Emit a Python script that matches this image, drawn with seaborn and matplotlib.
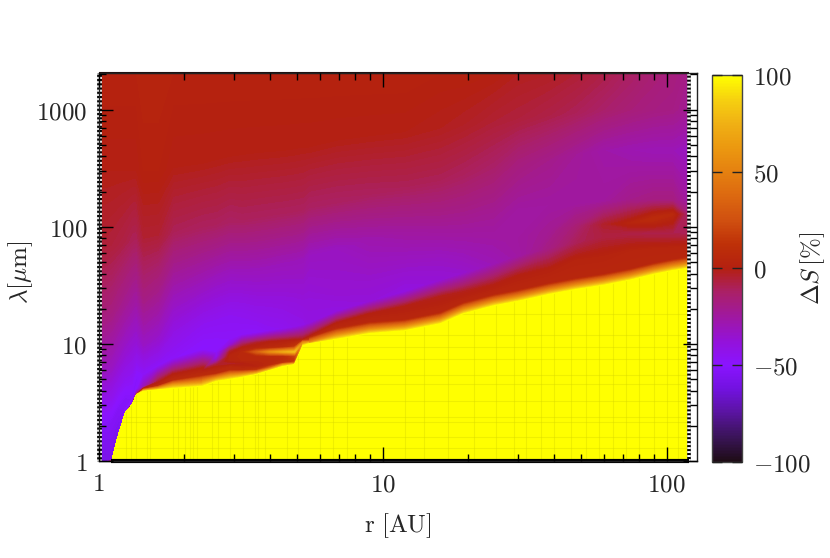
import numpy as np
import matplotlib
matplotlib.use("Agg")
import matplotlib.pyplot as plt
from matplotlib.cm import ScalarMappable
from matplotlib.colors import Normalize
from matplotlib.patches import Polygon
import seaborn as sns

# radius columns of the map [AU]
r_au = [1.0, 1.11, 1.17, 1.24, 1.31, 1.36, 1.44, 1.62, 1.83, 2.33, 2.6, 2.9, 3.2, 3.6, 4.0, 4.46, 4.9,
        5.25, 5.5, 6.9, 9, 12, 16, 19.3, 24.6, 30, 38.8, 48, 60, 75, 90, 105, 119]

# each layer: wavelength [um] and Delta S [%] in every column
lam_edge = [1, 1, 1.63, 2.58, 3.03, 3.7, 3.94, 4.05, 4.15, 4.33, 4.77, 4.96, 5.16, 5.47, 5.91, 6.4, 6.65,
            9.6, 10, 10.9, 12.2, 12.9, 14.8, 18.0, 21, 23, 26.4, 29, 31.5, 35, 39, 42, 44]
ds_edge = [-60] + [100] * 32

lam_orange = [1.005, 1.01, 1.65, 2.62, 3.08, 3.78, 4.02, 4.2, 4.5, 4.7, 5, 5.2, 5.4, 5.7, 6.1, 6.5, 6.7,
              9.7, 10.2, 12.0, 13.4, 14.2, 16.3, 19.8, 23.1, 25.3, 29, 31.9, 34.7, 38.5, 42.9, 46.2, 48.4]
ds_orange = [-60, -58, -55, -50, -45, -30, 70, 60, 60, 60, 60, 60, 60, 60, 60, 60, 60,
             60, 60, 55, 55, 55, 55, 55, 55, 55, 55, 55, 55, 55, 55, 55, 55]

lam_band = [1.01, 1.02, 1.68, 2.66, 3.12, 3.85, 4.15, 4.4, 4.9, 5.4, 5.6, 6.0, 6.0, 6.0, 6.3, 6.7, 6.8,
            9.8, 10.6, 13.6, 15.3, 16.1, 18.5, 22.5, 26.3, 28.8, 33, 36.3, 39.4, 43.8, 48.8, 52.5, 55]
ds_band = [-60, -58, -55, -50, -45, -30, 10, 8, 8, 8, 8, 8, 8, 12, 20, 40, 60,
           90, 40, 6, 5, 5, 5, 5, 5, 5, 5, 5, 5, 5, 5, 5, 5]

lam_bandtop = [1.1, 1.15, 1.9, 2.9, 3.4, 4.1, 4.3, 4.8, 5.5, 6.2, 8.5, 9.8, 10, 10.2, 10.4, 10.6, 10.8,
               10.9, 11.5, 15, 18, 21, 25.5, 28, 32, 38, 43, 52, 56, 62, 65, 66, 67]
ds_bandtop = [-58, -57, -56, -53, -52, -50, -30, -5, 0, 0, -48, -38, -12, -3, 0, 0, 0,
              0, 0, 1, 0, -1, -2, -2, -1, 0, 1, 2, 2, 3, 3, 3, 3]

lam_a = [2, 2.2, 2.8, 3.5, 4, 5, 5.5, 6.5, 7.5, 9, 10, 11, 12, 12.5, 13, 13.5, 14,
         14.5, 15, 19, 23, 28, 35, 40, 48, 56, 65, 72, 82, 88, 88, 88, 88]
ds_a = [-52, -53, -53, -52, -50, -52, -48, -48, -48, -50, -49, -48, -48, -48, -46, -45, -43,
        -42, -40, -40, -38, -40, -37, -35, -30, -26, -18, -10, -7, -8, -9, -9, -10]

lam_b = [6, 6.5, 7, 8, 9, 10, 10, 11, 12, 15, 16.5, 18, 19, 20, 21, 22, 23,
         24, 25, 29, 35, 42, 52, 60, 70, 80, 92, 100, 105, 108, 118, 128, 128]
ds_b = [-30, -32, -35, -37, -38, -38, -33, -35, -42, -45, -45, -45, -44, -42, -41, -40, -39,
        -38, -38, -36, -35, -35, -33, -30, -27, -25, -22, -15, -4, 3, 8, 6, -15]

lam_c = [20, 20, 20, 22, 22, 25, 25, 28, 30, 35, 38, 40, 42, 45, 47, 50, 52,
         55, 58, 65, 78, 92, 110, 125, 135, 145, 155, 160, 165, 170, 170, 170, 165]
ds_c = [-15, -17, -20, -22, -25, -25, -18, -20, -28, -30, -31, -32, -31, -30, -30, -30, -30,
        -30, -32, -32, -28, -25, -22, -21, -22, -25, -25, -25, -24, -20, -18, -18, -25]

lam_d = [70, 70, 70, 75, 75, 80, 80, 85, 90, 100, 105, 110, 115, 120, 125, 130, 135,
         140, 145, 160, 190, 220, 250, 280, 320, 350, 380, 420, 450, 450, 450, 450, 450]
ds_d = [-5, -6, -7, -8, -10, -10, -5, -5, -10, -11, -11, -12, -11, -11, -11, -11, -11,
        -11, -12, -12, -11, -10, -10, -11, -13, -17, -20, -23, -27, -29, -30, -30, -32]

lam_e = [300, 300, 300, 300, 300, 300, 300, 300, 320, 350, 375, 400, 415, 430, 440, 450, 465,
         480, 480, 550, 600, 650, 700, 750, 800, 850, 900, 950, 1000, 1000, 1000, 1000, 1000]
ds_e = [-1, -1, -1, -1, -1, -1, 1, 1, -1, -1, -1, -1, -1, -1, -1, -1, -1,
        -1, -1, -1, -1, -1, -2, -3, -5, -6, -8, -10, -13, -16, -18, -19, -22]

ds_top = [2, 2, 2, 2, 2, 2, 3, 3, 2, 2, 2, 2, 2, 2, 2, 2, 2,
          2, 2, 2, 2, 2, 1, 1, 0, -2, -3, -5, -8, -12, -15, -17, -20]

# the double lobe between 2.33 and 5.5 AU (columns 9 to 18)
lobe_lam1 = [5.4, 5.6, 6.0, 6.0, 6.0, 6.3, 6.7, 6.8, 9.7, 10.1]
lobe_ds1 = [8, 8, 8, 8, 15, 30, 55, 70, 95, 90]
lobe_lam2 = [5.6, 6.0, 6.4, 6.4, 6.4, 6.6, 6.9, 6.95, 9.8, 10.2]
lobe_ds2 = [6, 4, 5, 3, 2, 8, 15, 30, 90, 80]
lobe_lam3 = [5.8, 6.4, 6.8, 6.8, 6.8, 7.0, 7.1, 7.1, 9.9, 10.3]
lobe_ds3 = [3, 0, -5, -2, 3, 6, 10, 15, 80, 70]
lobe_lam4 = [5.9, 6.8, 7.3, 7.3, 7.3, 7.4, 7.5, 7.5, 10, 10.4]
lobe_ds4 = [1, -10, 3, 5, 5, 6, 8, 15, 70, 60]
lobe_lam5 = [6.0, 7.2, 7.9, 7.9, 7.9, 7.9, 7.95, 7.95, 10.2, 10.5]
lobe_ds5 = [0, -30, 3, 6, 6, 8, 10, 20, 60, 50]
lobe_lam6 = [6.1, 7.8, 8.6, 8.6, 8.6, 8.6, 8.6, 8.6, 10.4, 10.6]
lobe_ds6 = [-2, -45, -3, 5, 30, 55, 70, 80, 50, 40]
lobe_lam7 = [6.15, 8.3, 9.2, 9.3, 9.3, 9.3, 9.4, 9.5, 10.6, 10.7]
lobe_ds7 = [-3, -47, -18, 0, 3, 6, 8, 15, 30, 20]

# faint grid lines inside the yellow part
faint_r = [1.25, 1.3, 1.35, 1.48, 1.52, 1.83, 1.91, 2.02, 2.1, 2.15, 2.22, 2.51, 2.63, 2.9, 3.23, 3.56, 3.65,
           3.86, 4.6, 5.04, 6.0, 6.7, 7.5, 12, 14, 17, 21, 25, 29, 32, 36, 40, 46, 52, 58, 65, 72, 80, 90, 100, 110]
faint_lam = [1.3, 1.6, 2.15, 2.4, 3.3, 4.6, 5.5, 7.5, 9.5, 12, 18]

palette_stops = ["#1e0c16", "#3a1458", "#5a14a0", "#7212e0", "#8a14ff", "#9412d8", "#a018a0", "#aa2068",
                 "#b42010", "#be3008", "#d05010", "#dc6810", "#e58010", "#eb9810", "#f0b014", "#f6d010", "#ffff00"]
cbar_ticks = [-100, -50, 0, 50, 100]

sns.set_theme(style="ticks", rc={"mathtext.fontset": "cm", "font.size": 18, "axes.edgecolor": "#222222",
                                 "axes.linewidth": 1.0, "axes.axisbelow": False})
cmap = sns.blend_palette(palette_stops, as_cmap=True)
levels = np.linspace(-100, 101, 202)

W, H = 830, 558
fig = plt.figure(figsize=(W / 100, H / 100), dpi=100)
ax = fig.add_axes([98.5 / W, (H - 461.3) / H, 598.5 / W, 388 / H])
cax = fig.add_axes([712 / W, (H - 461.7) / H, 29.7 / W, 386.7 / H])

top_lam = 2045
n = len(r_au)
lam_rows = [[1] * n, lam_edge, lam_orange, lam_band, lam_bandtop, lam_a, lam_b, lam_c, lam_d, lam_e, [top_lam] * n]
ds_rows = [ds_edge, ds_edge, ds_orange, ds_band, ds_bandtop, ds_a, ds_b, ds_c, ds_d, ds_e, ds_top]

# lobe patch sits on the same columns, from the yellow edge up to layer a
lobe_lam = [lam_edge[9:19], lobe_lam1, lobe_lam2, lobe_lam3, lobe_lam4, lobe_lam5, lobe_lam6, lobe_lam7,
            lam_bandtop[9:19], lam_a[9:19]]
lobe_ds = [ds_edge[9:19], lobe_ds1, lobe_ds2, lobe_ds3, lobe_ds4, lobe_ds5, lobe_ds6, lobe_ds7,
           ds_bandtop[9:19], ds_a[9:19]]

# axes run in log10 so the filled contours blend evenly between the layers
log_x = np.log10(np.tile(r_au, (len(lam_rows), 1)))
log_y = np.log10(np.array(lam_rows, dtype=float))
ax.contourf(log_x, log_y, np.array(ds_rows, dtype=float), levels=levels, cmap=cmap, vmin=-100, vmax=100)
lobe_x = np.log10(np.tile(r_au[9:19], (len(lobe_lam), 1)))
lobe_y = np.log10(np.array(lobe_lam, dtype=float))
ax.contourf(lobe_x, lobe_y, np.array(lobe_ds, dtype=float), levels=levels, cmap=cmap, vmin=-100, vmax=100)

x_max = np.log10(128)
y_max = np.log10(top_lam)
x_end = np.log10(119.5)
ax.set_xlim(0, x_max)
ax.set_ylim(0, y_max)

# faint lines, only under the yellow edge
clip = Polygon(list(zip(np.log10(r_au), np.log10(lam_edge))) + [(np.log10(119), 0), (0, 0)], closed=True,
               transform=ax.transData)
v = ax.vlines(np.log10(faint_r), 0, y_max, color="#d8d800", alpha=0.4, lw=0.8)
h = ax.hlines(np.log10(faint_lam), 0, np.log10(119), color="#d8d800", alpha=0.4, lw=0.8)
v.set_clip_path(clip)
h.set_clip_path(clip)

# rough border of the map
ax.plot([x_end, x_end], [0, y_max], color="black", lw=2.6, solid_capstyle="butt")
ax.plot([x_end, x_end], [0, y_max], color="white", lw=2.6, ls=(0, (0.55, 0.55)))
ax.plot([0, 0], [0, y_max], color="black", lw=3.4, clip_on=False, solid_capstyle="butt")
ax.plot([0, 0], [0, y_max], color="white", lw=3.4, ls=(0, (0.45, 0.45)), clip_on=False)
ax.plot([0.003, 0.003], [0, y_max], color="#30101a", lw=1.2)
ax.plot([np.log10(1.11), x_end], [0, 0], color="black", lw=3, clip_on=False, solid_capstyle="butt")
ax.plot([0, x_end], [y_max, y_max], color="#201010", lw=1.5, clip_on=False, solid_capstyle="butt")

minor = np.log10(np.arange(2, 10))
ax.set_xticks([0, 1, 2], ["$1$", "$10$", "$100$"])
ax.set_yticks([0, 1, 2, 3], ["$1$", "$10$", "$100$", "$1000$"])
ax.set_xticks(np.concatenate([minor, minor + 1]), minor=True)
ax.set_yticks(np.concatenate([minor, minor + 1, minor + 2, minor[:1] + 3]), minor=True)
ax.tick_params(which="major", direction="in", length=10, width=1, top=True, right=True, color="black",
               labelsize=18, pad=8)
ax.tick_params(which="minor", direction="in", length=5, width=1, top=True, right=True, color="black")
ax.set_xlabel(r"$\mathrm{r\ [AU]}$", fontsize=18)
ax.set_ylabel(r"$\lambda[\mu\mathrm{m}]$", fontsize=18)
ax.xaxis.set_label_coords(0.5, -0.128)
ax.yaxis.set_label_coords(-0.106, 0.487)

cb = fig.colorbar(ScalarMappable(Normalize(-100, 100), cmap), cax=cax)
cb.set_ticks(cbar_ticks, labels=[f"${t}$" for t in cbar_ticks])
cb.outline.set_edgecolor("#444444")
cax.tick_params(which="major", direction="in", length=7, width=1, left=True, right=True, color="#222222",
                labelsize=18, pad=8)
cax.tick_params(which="minor", length=0)
cb.set_label(r"$\Delta S\,[\%]$", fontsize=18)
cax.yaxis.set_label_coords(2.9, 0.5)

fig.savefig("out.png", dpi=100)
